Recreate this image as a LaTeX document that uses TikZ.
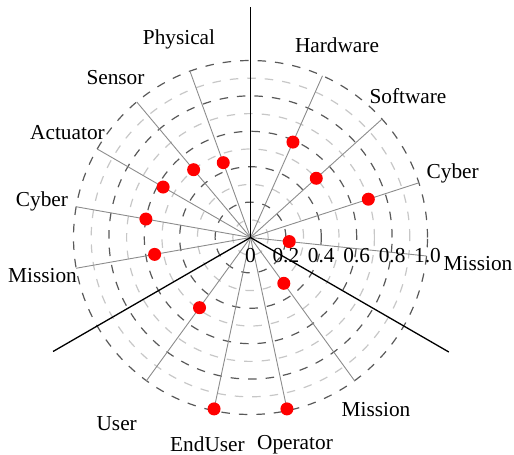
\documentclass[tikz,border=0pt]{standalone}
\usepackage{fontspec}
\setmainfont{Liberation Serif}
\begin{document}
\begin{tikzpicture}[x=1pt,y=1pt,
  darkc/.style={draw=black!65, line width=1.2pt, dash pattern=on 8.5pt off 9pt},
  lightc/.style={draw=black!22, line width=1.2pt, dash pattern=on 8.5pt off 9pt},
  spoke/.style={draw=black!45, line width=0.9pt},
  axisline/.style={draw=black, line width=1.3pt},
  dot/.style={circle, fill=red, inner sep=0pt, minimum size=13pt},
  lab/.style={font=\fontsize{21.3}{25}\selectfont, anchor=base, inner sep=0pt},
]
\useasboundingbox (-250.5,-217.5) rectangle (263.5,237.5);
\coordinate (O) at (0,0);
% grid circles
\foreach \r in {0.1,0.3,0.5,0.7,0.9} \draw[lightc] (O) circle[radius=\r*177];
\foreach \r in {0.2,0.4,0.6,0.8,1.0} \draw[darkc] (O) circle[radius=\r*177];
% spokes
\foreach \a/\n in {66/hw,42/sw,18/cyr,-6/mir,110/ph,130/se,150/ac,170/cyl,190/mil,234/us,258/eu,282/op,306/mib}{
  \coordinate (s\n) at (\a:177);
  \draw[spoke] (O) -- (s\n);
}
% main axes
\coordinate (ax1) at (90:230);
\coordinate (ax2) at (210:228);
\coordinate (ax3) at (330:229);
\draw[axisline] (O) -- (ax1);
\draw[axisline] (O) -- (ax2);
\draw[axisline] (O) -- (ax3);
% data points
\foreach \a/\v/\n in {66/0.59/hw,42/0.5/sw,18/0.7/cyr,-6/0.22/mir,110/0.45/ph,130/0.5/se,150/0.57/ac,170/0.6/cyl,190/0.55/mil,234/0.49/us,258/0.99/eu,282/0.99/op,306/0.32/mib}{
  \node[dot] (p\n) at (\a:{\v*177}) {};
}
% tick labels
\foreach \k/\t in {0/0,1/0.2,2/0.4,3/0.6,4/0.8,5/1.0}{
  \node[lab] (t\k) at ({\k*35.4},-25) {\t};
}
% category labels
\node[lab] (lhw) at (86.5,185) {Hardware};
\node[lab] (lsw) at (157.5,134) {Software};
\node[lab] (lcyr) at (202.2,59) {Cyber};
\node[lab] (lmir) at (227.5,-33) {Mission};
\node[lab] (lph) at (-71.5,193) {Physical};
\node[lab] (lse) at (-135,153) {Sensor};
\node[lab] (lac) at (-183,98) {Actuator};
\node[lab] (lcyl) at (-208.5,31) {Cyber};
\node[lab] (lmil) at (-208,-45) {Mission};
\node[lab] (lus) at (-133.8,-193) {User};
\node[lab] (leu) at (-43,-214) {EndUser};
\node[lab] (lop) at (44.5,-212) {Operator};
\node[lab] (lmib) at (125.5,-178.5) {Mission};
\end{tikzpicture}
\end{document}
